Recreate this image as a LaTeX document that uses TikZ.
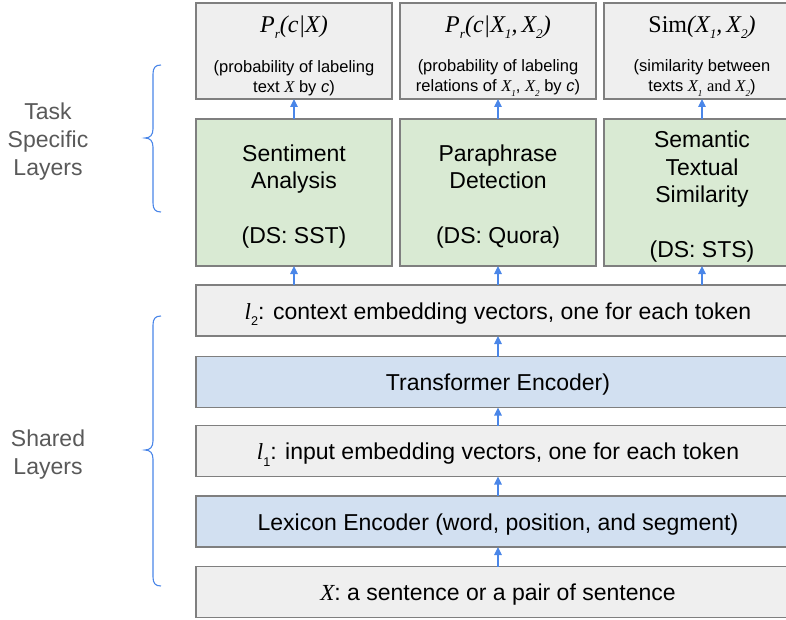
\documentclass[tikz,border=0pt]{standalone}
\usepackage{fontspec}
\usepackage{graphicx}
\setmainfont{Liberation Sans}
\newfontfamily\tms{Liberation Serif}
\usetikzlibrary{arrows.meta}
\definecolor{boxgray}{HTML}{EFEFEF}
\definecolor{boxline}{HTML}{7F7F7F}
\definecolor{boxgreen}{HTML}{D9EAD3}
\definecolor{boxblue}{HTML}{D2E0F1}
\definecolor{arrblue}{HTML}{4A86E8}
\definecolor{labgray}{HTML}{595959}
\newcommand\sbs[1]{\raisebox{-0.55ex}{\scalebox{0.55}{#1}}}
\newcommand\tmi[1]{{\tms\itshape #1}}
\begin{document}
\begin{tikzpicture}[x=1pt,y=-1pt,
  every node/.style={inner sep=0pt,outer sep=0pt},
  layerbox/.style={draw=boxline,line width=1.2pt,rectangle},
  graybox/.style={layerbox,fill=boxgray},
  greenbox/.style={layerbox,fill=boxgreen,minimum width=196pt,minimum height=147pt},
  greentxt/.style={align=center,font=\fontsize{23}{27.5}\selectfont},
  bluebox/.style={layerbox,fill=boxblue},
  outbox/.style={graybox,minimum width=196pt,minimum height=96pt},
  widebox/.style={minimum width=604pt,minimum height=51pt,text height=19pt,text depth=2pt,font=\fontsize{23}{27}\selectfont},
  formula/.style={font=\tms\fontsize{24}{28}\selectfont},
  smalltxt/.style={align=center,font=\fontsize{16.5}{20}\selectfont},
  sidelab/.style={align=center,text=labgray,font=\fontsize{23}{28}\selectfont},
  uparrow/.style={draw=arrblue,line width=1.2pt,-{Triangle[width=7.5pt,length=8pt]}},
  brace/.style={draw=arrblue,line width=1.1pt}]
\useasboundingbox (0,0) rectangle (786,620);
\clip (0,0) rectangle (786,620);

% output boxes
\node[outbox] (o1) at (294,51) {};
\node[outbox] (o2) at (498,51) {};
\node[outbox] (o3) at (702,51) {};
\node[formula] (f1) at (294,27) {\itshape P\sbs{r}(c|X)};
\node[formula] (f2) at (498,27) {\itshape P\sbs{r}(c|X\sbs{1},\,X\sbs{2})};
\node[formula] (f3) at (702,27) {Sim\itshape(X\sbs{1},\,X\sbs{2})};
\node[smalltxt] (t1) at (294,78) {(probability of labeling\\text \tmi{X} by \textit{c})};
\node[smalltxt] (t2) at (498,78) {(probability of labeling\\relations of \tmi{X\sbs{1}}, \tmi{X\sbs{2}} by \textit{c})};
\node[smalltxt] (t3) at (702,78) {(similarity between\\texts \tmi{X\sbs{1}} {\tms and} \tmi{X\sbs{2}})};

% task boxes
\node[greenbox] (g1) at (294,192.5) {};
\node[greenbox] (g2) at (498,192.5) {};
\node[greenbox] (g3) at (702,192.5) {};
\node[greentxt] (g1t) at (294,196.5) {Sentiment\\Analysis\\[27.5pt](DS: SST)};
\node[greentxt] (g2t) at (498,196.5) {Paraphrase\\Detection\\[27.5pt](DS: Quora)};
\node[greentxt] (g3t) at (702,196.5) {Semantic\\Textual\\Similarity\\[27pt](DS: STS)};

% shared boxes
\node[graybox,widebox] (l2) at (498,310.5) {\tmi{l}\sbs{2}: context embedding vectors, one for each token};
\node[bluebox,widebox] (te) at (498,382) {Transformer Encoder)};
\node[graybox,widebox] (l1) at (498,451) {\tmi{l}\sbs{1}: input embedding vectors, one for each token};
\node[bluebox,widebox] (le) at (498,521.5) {Lexicon Encoder (word, position, and segment)};
\node[graybox,widebox] (x) at (498,592) {\tmi{X}: a sentence or a pair of sentence};

% arrows
\draw[uparrow] (x.north) -- (le.south);
\draw[uparrow] (le.north) -- (l1.south);
\draw[uparrow] (l1.north) -- (te.south);
\draw[uparrow] (te.north) -- (l2.south);
\draw[uparrow] (l2.north -| g1.south) -- (g1.south);
\draw[uparrow] (l2.north -| g2.south) -- (g2.south);
\draw[uparrow] (l2.north -| g3.south) -- (g3.south);
\draw[uparrow] (g1.north) -- (o1.south);
\draw[uparrow] (g2.north) -- (o2.south);
\draw[uparrow] (g3.north) -- (o3.south);

% braces
\draw[brace] (161,65) .. controls (155,65) and (153,68) .. (153,74)
  -- (153,129) .. controls (153,135) and (150,138) .. (145,138)
  .. controls (150,138) and (153,141) .. (153,147)
  -- (153,203) .. controls (153,209) and (155,212) .. (161,212);
\draw[brace] (161,316) .. controls (155,316) and (153,319) .. (153,325)
  -- (153,441) .. controls (153,447) and (150,450) .. (145,450)
  .. controls (150,450) and (153,453) .. (153,459)
  -- (153,577) .. controls (153,583) and (155,586) .. (161,586);

% side labels
\node[sidelab] (tsl) at (48,142) {Task\\Specific\\Layers};
\node[sidelab] (shl) at (48,455) {Shared\\Layers};
\end{tikzpicture}
\end{document}
